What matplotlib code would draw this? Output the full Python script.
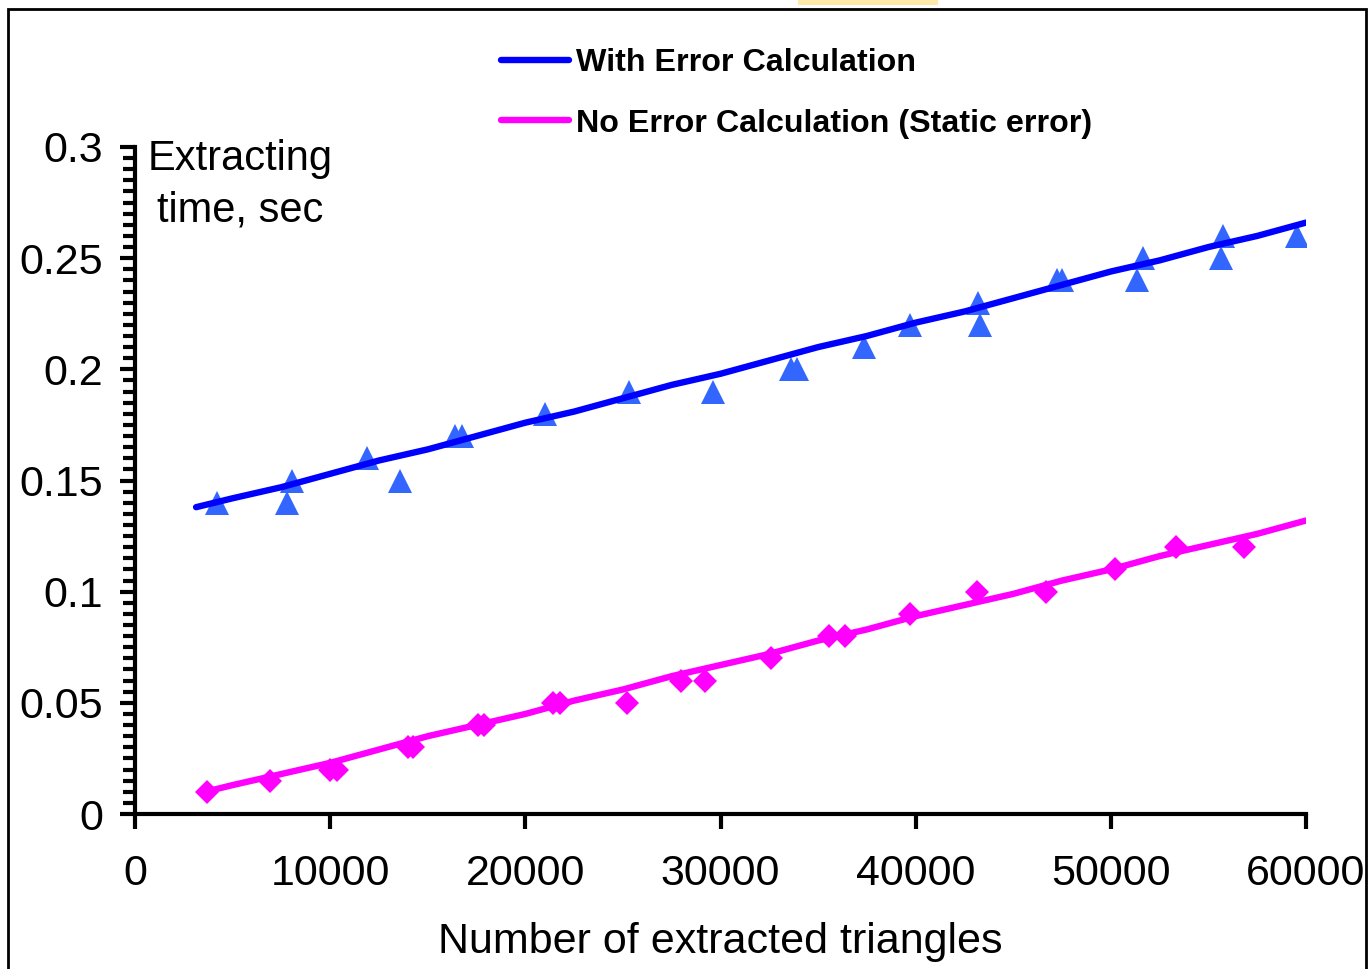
import matplotlib.pyplot as plt
from matplotlib.lines import Line2D
from matplotlib.patches import Rectangle
from matplotlib.ticker import MultipleLocator

plt.rcParams['font.family'] = ['Liberation Sans', 'DejaVu Sans']

# measured points, with error calculation (triangles)
x_err = [4200, 7800, 8050, 11900, 13600, 16400, 16750, 21000, 25300, 29600,
         33600, 33900, 37350, 39700, 43200, 43300, 47250, 47500, 51350, 51650,
         55650, 55750, 59550]
y_err = [0.14, 0.14, 0.15, 0.16, 0.15, 0.17, 0.17, 0.18, 0.19, 0.19,
         0.20, 0.20, 0.21, 0.22, 0.23, 0.22, 0.24, 0.24, 0.24, 0.25,
         0.25, 0.26, 0.26]

# measured points, static error (diamonds)
x_st = [3700, 6900, 10000, 10350, 14000, 14250, 17600, 17900, 21400, 21800,
        25200, 28000, 29200, 32600, 35550, 36400, 39700, 43150, 46700, 50200,
        53350, 56800]
y_st = [0.01, 0.015, 0.02, 0.02, 0.03, 0.03, 0.04, 0.04, 0.05, 0.05,
        0.05, 0.06, 0.06, 0.07, 0.08, 0.08, 0.09, 0.10, 0.10, 0.11,
        0.12, 0.12]

# trend lines
xl_err = [3130, 5000, 7500, 10000, 12500, 15000, 17500, 20000, 22500, 25000,
          27500, 30000, 32500, 35000, 37500, 40000, 42500, 45000, 47500, 50000,
          52500, 55000, 57500, 60000]
yl_err = [0.138, 0.142, 0.147, 0.153, 0.159, 0.164, 0.170, 0.176, 0.181, 0.187,
          0.193, 0.198, 0.204, 0.210, 0.215, 0.221, 0.226, 0.232, 0.238, 0.244,
          0.249, 0.255, 0.260, 0.266]
xl_st = [3600, 5000, 7500, 10000, 12500, 15000, 17500, 20000, 22500, 25000,
         27500, 30000, 32500, 35000, 37500, 40000, 42500, 45000, 47500, 50000,
         52500, 55000, 57500, 60000]
yl_st = [0.010, 0.013, 0.018, 0.023, 0.029, 0.035, 0.040, 0.045, 0.051, 0.056,
         0.062, 0.067, 0.072, 0.078, 0.083, 0.089, 0.094, 0.099, 0.105, 0.110,
         0.116, 0.121, 0.126, 0.132]

fig = plt.figure(figsize=(13.69, 9.69), dpi=100)
ax = fig.add_axes([135/1369, 1-814/969, (1306-135)/1369, (814-147)/969])

ax.plot(x_err, y_err, '^', color='#3366FF', markersize=17, markeredgewidth=0)
ax.plot(x_st, y_st, 'D', color='#FF00FF', markersize=12, markeredgewidth=0)
ax.plot(xl_err, yl_err, '-', color='#0000FF', lw=4.6, solid_capstyle='round')
ax.plot(xl_st, yl_st, '-', color='#FF00FF', lw=4.6, solid_capstyle='round')

ax.set_xlim(0, 60000)
ax.set_ylim(0, 0.3)
ax.set_xticks(range(0, 60001, 10000))
ax.set_yticks([0, 0.05, 0.1, 0.15, 0.2, 0.25, 0.3])
ax.set_yticklabels(['0', '0.05', '0.1', '0.15', '0.2', '0.25', '0.3'])
ax.yaxis.set_minor_locator(MultipleLocator(0.005))
ax.tick_params(axis='both', which='both', direction='out', width=3, labelsize=31)
ax.tick_params(axis='x', which='major', length=11, pad=18)
ax.tick_params(axis='y', which='major', length=11, pad=12)
ax.tick_params(axis='y', which='minor', length=9)
for s in ['top', 'right']:
    ax.spines[s].set_visible(False)
for s in ['left', 'bottom']:
    ax.spines[s].set_linewidth(3)

ax.set_xlabel('Number of extracted triangles', fontsize=31, labelpad=20)
fig.text(240/1369, 1-139/969, 'Extracting\ntime, sec', fontsize=30, ha='center',
         va='top', linespacing=1.38)

handles = [Line2D([], [], color='#0000FF', lw=4.6, solid_capstyle='round'),
           Line2D([], [], color='#FF00FF', lw=4.6, solid_capstyle='round')]
fig.legend(handles, ['With Error Calculation', 'No Error Calculation (Static error)'],
           loc='upper left', bbox_to_anchor=(485/1369, 1-32/969), frameon=False,
           prop={'weight': 'bold', 'size': 23.2}, handlelength=2.1,
           handletextpad=0.22, labelspacing=0.95, borderpad=0)

fig.patches.append(Rectangle((8/1369, -0.05), (1366-8)/1369, 1.05-9/969,
                             transform=fig.transFigure, fill=False, lw=2, ec='black'))
fig.patches.append(Rectangle((798/1369, 1-5/969), 140/1369, 5/969,
                             transform=fig.transFigure, color='#FFE9A8', lw=0))

fig.savefig('out.png', dpi=100)
